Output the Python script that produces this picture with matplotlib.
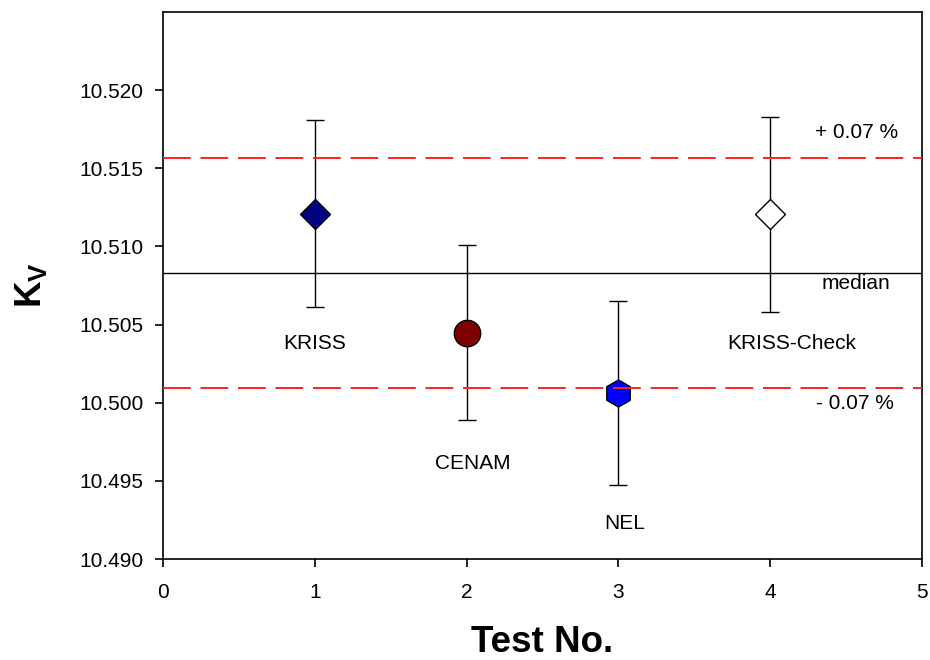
import numpy as np
import matplotlib.pyplot as plt

plt.rcParams['font.family'] = ['Liberation Sans', 'DejaVu Sans']
plt.rcParams['mathtext.fontset'] = 'custom'
plt.rcParams['mathtext.rm'] = 'Liberation Sans'
plt.rcParams['mathtext.bf'] = 'Liberation Sans:bold'
plt.rcParams['lines.scale_dashes'] = False

# data
test_no = [1, 2, 3, 4]
labs = ['KRISS', 'CENAM', 'NEL', 'KRISS-Check']
kv = [10.5121, 10.50449, 10.50061, 10.51205]
kv_err = [0.0060, 0.00557, 0.00587, 0.00626]
median = 10.5083
tol = 0.0007  # 0.07 %

# marker styles
mk = ['D', 'o', 'h', 'D']
mk_size = [15.5, 19, 19.5, 15.5]
mk_col = ['#000080', '#800000', '#0000ff', 'white']

# label positions (x, y) in data units
lab_pos = [(1.0, 10.5038), (2.04, 10.4961), (3.04, 10.4923), (4.14, 10.5038)]

fig = plt.figure(figsize=(9.3, 6.6), dpi=100)
ax = fig.add_axes([163/930, 1 - 559/660, (922-163)/930, (559-12)/660])

ax.errorbar(test_no, kv, yerr=kv_err, fmt='none', ecolor='black',
            elinewidth=1, capsize=6.5, capthick=1, zorder=2)
for i in range(len(test_no)):
    ax.plot(test_no[i], kv[i], marker=mk[i], ms=mk_size[i], mfc=mk_col[i],
            mec='black', mew=1, ls='none', zorder=3)
    ax.text(lab_pos[i][0], lab_pos[i][1], labs[i], fontsize=15,
            ha='center', va='center')

# median and +/- 0.07 % limits
ax.axhline(median, color='black', lw=1, zorder=1)
ax.axhline(median*(1+tol), color='#ff2020', lw=1.4, dashes=(20, 7), zorder=4)
ax.axhline(median*(1-tol), color='#ff2020', lw=1.4, dashes=(20, 7), zorder=4)

ax.text(4.57, 10.51727, '+ 0.07 %', fontsize=15, ha='center', va='center')
ax.text(4.565, 10.50762, 'median', fontsize=15, ha='center', va='center')
ax.text(4.56, 10.49996, '- 0.07 %', fontsize=15, ha='center', va='center')

ax.set_xlim(0, 5)
ax.set_ylim(10.490, 10.525)
ax.set_xticks(np.arange(0, 6, 1))
ax.set_yticks(np.arange(10.490, 10.5201, 0.005))
ax.set_yticklabels([f'{v:.3f}' for v in np.arange(10.490, 10.5201, 0.005)])
ax.tick_params(direction='out', length=6, width=1.2, labelsize=15)
ax.tick_params(axis='x', pad=11)
ax.tick_params(axis='y', pad=8)
for s in ax.spines.values():
    s.set_linewidth(1.2)

ax.set_xlabel('Test No.', fontsize=26.5, fontweight='bold', va='baseline')
ax.xaxis.set_label_coords(0.5, -0.170)
ax.set_ylabel(r'$\mathbf{K}_{\mathbf{V}}$', fontsize=26.5, va='center', ha='center')
ax.yaxis.set_label_coords(-0.1726, 0.5)

plt.savefig('out.png', dpi=100)
